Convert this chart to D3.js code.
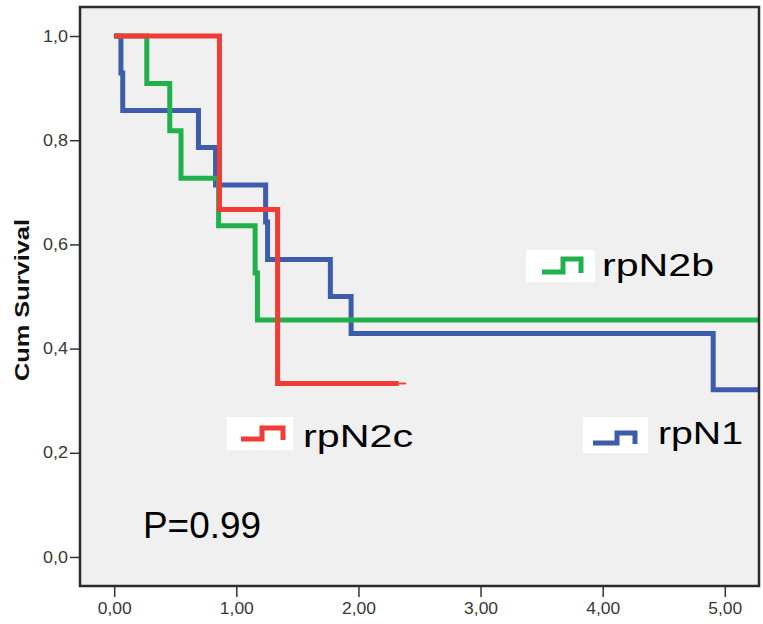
<!DOCTYPE html>
<html>
<head>
<meta charset="utf-8">
<script src="https://cdn.jsdelivr.net/npm/d3@7"></script>
<style>
  html, body { margin: 0; padding: 0; background: #ffffff; }
  svg { display: block; font-family: "Liberation Sans", Arial, sans-serif; }
</style>
</head>
<body>
<svg id="chart" width="763" height="624"></svg>
<script>
// Kaplan-Meier survival estimates per group (time in years, cumulative survival)
const seriesNames = ["rpN1", "rpN2b", "rpN2c"];
const rpN1Times  = [0, 0.055, 0.07, 0.69, 0.83, 1.24, 1.256, 1.77, 1.94, 4.905, 5.4];
const rpN1Surv   = [1, 0.929, 0.857, 0.786, 0.714, 0.643, 0.571, 0.5, 0.429, 0.321, 0.321];
const rpN2bTimes = [0, 0.267, 0.455, 0.547, 0.855, 1.154, 1.173, 5.4];
const rpN2bSurv  = [1, 0.909, 0.818, 0.727, 0.636, 0.545, 0.455, 0.455];
const rpN2cTimes = [0, 0.862, 1.338, 2.33];
const rpN2cSurv  = [1, 0.667, 0.333, 0.333];
const rpN2cCensorTime = 2.39;

const xTicks = [0, 1, 2, 3, 4, 5];
const yTicks = [0, 0.2, 0.4, 0.6, 0.8, 1.0];
const pValueLabel = "P=0.99";
const yTitle = "Cum Survival";

const colors = { rpN1: "#3d5ca9", rpN2b: "#21b04b", rpN2c: "#ef3c37" };

const svg = d3.select("#chart");
const plot = { left: 80, right: 759, top: 7, bottom: 586 };

const x = d3.scaleLinear().domain([-0.28, 5.28]).range([plot.left, plot.right]);
const y = d3.scaleLinear().domain([-0.0557, 1.0557]).range([plot.bottom, plot.top]);

// plot background
svg.append("rect")
  .attr("x", plot.left).attr("y", plot.top)
  .attr("width", plot.right - plot.left).attr("height", plot.bottom - plot.top)
  .attr("fill", "#f0f0f0");

svg.append("defs").append("clipPath").attr("id", "plotClip")
  .append("rect")
  .attr("x", plot.left).attr("y", plot.top)
  .attr("width", plot.right - plot.left).attr("height", plot.bottom - plot.top);

// axes
const commaFmt = f => v => d3.format(f)(v).replace(".", ",");

const yAxis = svg.append("g")
  .attr("transform", `translate(${plot.left},0)`)
  .call(d3.axisLeft(y).tickValues(yTicks).tickSize(10).tickPadding(2).tickFormat(commaFmt(".1f")));
yAxis.select(".domain").remove();
yAxis.selectAll(".tick line").attr("stroke", "#333").attr("stroke-width", 1.5);
yAxis.selectAll(".tick text")
  .attr("fill", "#383838").style("font-size", "16px")
  .attr("textLength", 25).attr("lengthAdjust", "spacingAndGlyphs");

const xAxis = svg.append("g")
  .attr("transform", `translate(0,${plot.bottom})`)
  .call(d3.axisBottom(x).tickValues(xTicks).tickSize(11).tickPadding(6).tickFormat(commaFmt(".2f")));
xAxis.select(".domain").remove();
xAxis.selectAll(".tick line").attr("stroke", "#333").attr("stroke-width", 1.5);
xAxis.selectAll(".tick text")
  .attr("fill", "#383838").style("font-size", "16px")
  .attr("textLength", 34).attr("lengthAdjust", "spacingAndGlyphs");

// survival step curves
const step = d3.line()
  .x(d => x(d[0]))
  .y(d => y(d[1]))
  .curve(d3.curveStepAfter);

const curves = [
  { name: "rpN1",  pts: d3.zip(rpN1Times, rpN1Surv) },
  { name: "rpN2b", pts: d3.zip(rpN2bTimes, rpN2bSurv) },
  { name: "rpN2c", pts: d3.zip(rpN2cTimes, rpN2cSurv) }
];

const curveLayer = svg.append("g").attr("clip-path", "url(#plotClip)");
curveLayer.selectAll("path.km")
  .data(curves)
  .join("path")
  .attr("class", "km")
  .attr("d", d => step(d.pts))
  .attr("fill", "none")
  .attr("stroke", d => colors[d.name])
  .attr("stroke-width", 5)
  .attr("stroke-linejoin", "miter");

// censored tail of the rpN2c curve
const lastC = rpN2cSurv[rpN2cSurv.length - 1];
curveLayer.append("line")
  .attr("x1", x(rpN2cTimes[rpN2cTimes.length - 1])).attr("x2", x(rpN2cCensorTime))
  .attr("y1", y(lastC)).attr("y2", y(lastC))
  .attr("stroke", colors.rpN2c).attr("stroke-width", 1.8);

// frame
svg.append("rect")
  .attr("x", plot.left).attr("y", plot.top)
  .attr("width", plot.right - plot.left).attr("height", plot.bottom - plot.top)
  .attr("fill", "none").attr("stroke", "#2b2b2b").attr("stroke-width", 2.5);

// y axis title
svg.append("text")
  .attr("transform", "translate(28.5,300) rotate(-90)")
  .attr("text-anchor", "middle")
  .attr("font-weight", "bold")
  .style("font-size", "20px")
  .attr("textLength", 162).attr("lengthAdjust", "spacingAndGlyphs")
  .attr("fill", "#111")
  .text(yTitle);

// legend entries placed inside the plot
const legendLayout = [
  { name: "rpN2b", box: [526, 250, 69, 32], icon: [[16, 22], [37, 22], [37, 9], [55, 9], [55, 23]], text: [602, 276, 112] },
  { name: "rpN2c", box: [227, 417, 66, 33], icon: [[14, 22], [35, 22], [35, 11], [56, 11], [56, 23]], text: [303, 446.5, 110] },
  { name: "rpN1",  box: [583, 417, 65, 36], icon: [[10, 26], [34, 26], [34, 16], [52, 16], [52, 27]], text: [658, 444, 85] }
];
const iconLine = d3.line();
const leg = svg.append("g").selectAll("g").data(legendLayout).join("g");
leg.append("rect")
  .attr("x", d => d.box[0]).attr("y", d => d.box[1])
  .attr("width", d => d.box[2]).attr("height", d => d.box[3])
  .attr("fill", "#ffffff");
leg.append("path")
  .attr("transform", d => `translate(${d.box[0]},${d.box[1]})`)
  .attr("d", d => iconLine(d.icon))
  .attr("fill", "none")
  .attr("stroke", d => colors[d.name])
  .attr("stroke-width", 5)
  .attr("stroke-linejoin", "miter");
leg.append("text")
  .attr("x", d => d.text[0]).attr("y", d => d.text[1])
  .attr("textLength", d => d.text[2]).attr("lengthAdjust", "spacingAndGlyphs")
  .style("font-size", "32px")
  .attr("fill", "#000")
  .text(d => d.name);

// log-rank p value
svg.append("text")
  .attr("x", 143).attr("y", 537.5)
  .attr("textLength", 118).attr("lengthAdjust", "spacingAndGlyphs")
  .style("font-size", "36px")
  .attr("fill", "#000")
  .text(pValueLabel);
</script>
</body>
</html>
